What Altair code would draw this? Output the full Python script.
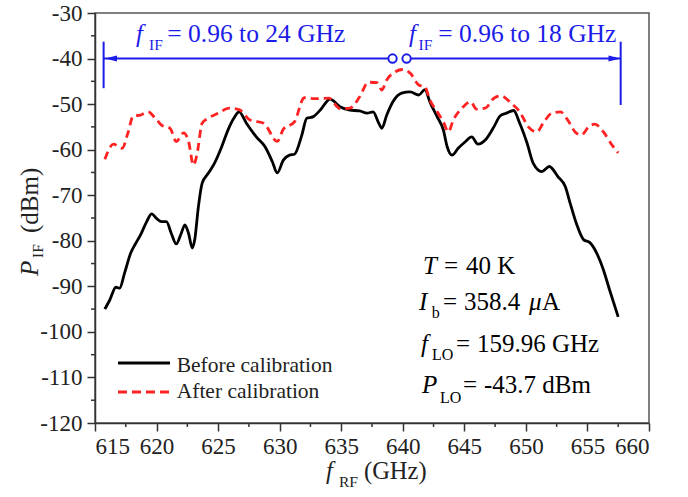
import altair as alt
import pandas as pd

# IF output power versus RF frequency, before and after calibration
rf_before = [615.8, 616.2, 616.7, 617.0, 617.4, 617.9, 618.3, 618.7, 619.2, 619.6,
             620.0, 620.4, 620.8, 621.2, 621.6, 622.0, 622.3, 622.6, 622.9, 623.1,
             623.4, 623.7, 624.2, 624.7, 625.3, 625.8, 626.3, 626.7, 627.3, 628.1,
             628.8, 629.4, 629.8, 630.3, 630.8, 631.2, 631.8, 632.2, 632.7, 633.3,
             634.1, 634.9, 635.7, 636.5, 637.1, 637.6, 638.0, 638.3, 638.7, 639.2,
             639.9, 640.6, 641.3, 641.8, 642.2, 642.8, 643.3, 643.6, 644.0, 644.5,
             645.1, 645.6, 646.1, 646.7, 647.4, 647.9, 648.4, 649.0, 649.5, 650.1,
             650.6, 651.3, 651.9, 652.6, 653.2, 653.6, 654.1, 654.7, 655.2, 655.75,
             656.3, 656.8, 657.5]
p_before = [-95.0, -93.0, -90.2, -90.4, -87.1, -82.7, -80.6, -78.7, -75.8, -74.1,
            -75.1, -75.8, -75.8, -78.4, -80.7, -78.4, -76.5, -78.4, -81.6, -79.8,
            -72.5, -67.4, -65.2, -63.0, -59.3, -55.7, -53.0, -51.7, -54.2, -57.2,
            -59.3, -62.6, -65.1, -62.3, -61.2, -61.0, -56.8, -53.1, -52.8, -51.3,
            -48.9, -50.6, -51.3, -51.5, -52.0, -51.7, -53.9, -55.3, -52.4, -49.5,
            -47.6, -47.3, -48.0, -46.8, -49.5, -52.8, -55.7, -59.3, -61.2, -59.7,
            -58.2, -57.2, -58.8, -57.9, -55.0, -52.6, -52.0, -51.4, -54.2, -58.6,
            -63.0, -64.8, -63.7, -65.9, -68.1, -71.8, -76.2, -79.8, -80.4, -82.7,
            -86.4, -90.8, -96.7]

rf_after = [615.8, 616.5, 617.2, 617.7, 618.1, 618.7, 619.3, 619.9, 620.4, 621.1,
            621.6, 622.2, 622.6, 623.0, 623.3, 623.7, 624.2, 625.0, 625.9, 626.7,
            627.6, 628.7, 629.8, 630.3, 631.2, 632.0, 632.8, 634.0, 634.9, 635.7,
            636.5, 637.2, 637.9, 638.3, 638.7, 639.4, 640.0, 640.6, 641.3, 641.8,
            642.2, 642.8, 643.3, 643.7, 644.1, 644.8, 645.5, 646.0, 646.7, 647.4,
            648.0, 648.8, 649.5, 650.2, 650.9, 651.4, 652.1, 652.8, 653.4, 654.0,
            654.5, 655.1, 655.6, 656.3, 657.0, 657.5]
p_after = [-62.1, -58.8, -59.7, -56.1, -52.6, -52.4, -51.7, -53.1, -54.6, -55.3,
           -58.2, -56.3, -58.2, -63.4, -60.8, -54.2, -53.1, -52.0, -50.9, -51.2,
           -53.5, -54.2, -58.2, -55.5, -53.9, -48.6, -48.8, -48.7, -51.0, -50.9,
           -48.4, -45.2, -45.3, -46.9, -44.7, -42.9, -42.4, -43.2, -45.8, -46.2,
           -49.1, -51.7, -53.9, -56.1, -53.5, -50.9, -49.5, -51.1, -50.9, -48.7,
           -48.2, -49.8, -51.7, -55.0, -56.1, -54.2, -52.0, -51.7, -53.5, -56.1,
           -56.8, -55.0, -54.4, -56.1, -59.0, -60.7]

x_major = [615, 620, 625, 630, 635, 640, 645, 650, 655, 660]
x_minor = [617.5, 622.5, 627.5, 632.5, 637.5, 642.5, 647.5, 652.5, 657.5]
y_major = [-120, -110, -100, -90, -80, -70, -60, -50, -40, -30]
y_minor = [-115, -105, -95, -85, -75, -65, -55, -45, -35]

# IF band markers: band edges, arrow ends and split point (GHz, dBm)
band_level = -40
band_left_edge, band_right_edge = 615.7, 657.7
band_split = [639.17, 640.31]

W, H = 554, 410
SERIF = "Liberation Serif, 'Times New Roman', Times, serif"
BLUE = "#1c1ce8"
RED = "#ff2222"

xs = alt.Scale(domain=[615, 660], nice=False, zero=False)
ys = alt.Scale(domain=[-120, -30], nice=False, zero=False)

axis_common = dict(
    labelFont=SERIF, labelFontSize=23, labelColor="#222",
    tickColor="#333", tickWidth=1.5, tickSize=8,
    domainColor="#333", domainWidth=1.5, grid=False, title=None,
    labelExpr="toString(datum.value)",
)

before_df = pd.DataFrame({"rf": rf_before, "p": p_before})
after_df = pd.DataFrame({"rf": rf_after, "p": p_after})

before = alt.Chart(before_df).mark_line(
    color="black", strokeWidth=2.8, interpolate="monotone"
).encode(
    x=alt.X("rf:Q", scale=xs, axis=alt.Axis(values=x_major, labelPadding=4, **axis_common)),
    y=alt.Y("p:Q", scale=ys, axis=alt.Axis(values=y_major, labelPadding=5, **axis_common)),
)

after = alt.Chart(after_df).mark_line(
    color=RED, strokeWidth=2.8, strokeDash=[8, 5], interpolate="monotone"
).encode(x=alt.X("rf:Q", scale=xs), y=alt.Y("p:Q", scale=ys))

# minor ticks
xminor = alt.Chart(pd.DataFrame({"v": x_minor})).mark_rule(
    color="#333", strokeWidth=1.5
).encode(x=alt.X("v:Q", scale=xs), y=alt.value(H), y2=alt.value(H + 4))
yminor = alt.Chart(pd.DataFrame({"v": y_minor})).mark_rule(
    color="#333", strokeWidth=1.5
).encode(y=alt.Y("v:Q", scale=ys), x=alt.value(0), x2=alt.value(-4))

# IF band annotation
seg_df = pd.DataFrame({
    "x": [band_left_edge, band_split[1], band_left_edge, band_right_edge],
    "x2": [band_split[0], band_right_edge, band_left_edge, band_right_edge],
    "y": [band_level, band_level, -36.3, -36.3],
    "y2": [band_level, band_level, -46.5, -50.2],
})
segs = alt.Chart(seg_df).mark_rule(color=BLUE, strokeWidth=2).encode(
    x=alt.X("x:Q", scale=xs), x2="x2:Q", y=alt.Y("y:Q", scale=ys), y2="y2:Q"
)
left_head = alt.Chart(pd.DataFrame({"x": [616.3], "y": [band_level]})).mark_point(
    shape="M-1,0L1,-0.5L1,0.5Z", size=144, filled=True, color=BLUE, opacity=1
).encode(x=alt.X("x:Q", scale=xs), y=alt.Y("y:Q", scale=ys))
right_head = alt.Chart(pd.DataFrame({"x": [657.2], "y": [band_level]})).mark_point(
    shape="M1,0L-1,-0.5L-1,0.5Z", size=144, filled=True, color=BLUE, opacity=1
).encode(x=alt.X("x:Q", scale=xs), y=alt.Y("y:Q", scale=ys))
split_marks = alt.Chart(pd.DataFrame({"x": band_split, "y": [band_level] * 2})).mark_point(
    shape="circle", size=70, filled=False, color=BLUE, fill="white", fillOpacity=1,
    strokeWidth=2, opacity=1
).encode(x=alt.X("x:Q", scale=xs), y=alt.Y("y:Q", scale=ys))


def label(text, x, y, size=24, style="normal", color="black", angle=0):
    """A single piece of text placed in plot-area pixels."""
    kw = dict(text=text, font=SERIF, fontSize=size, fontStyle=style, color=color,
              align="left", baseline="alphabetic")
    if angle:
        kw["angle"] = angle
    return alt.Chart(pd.DataFrame({"a": [0]})).mark_text(**kw).encode(
        x=alt.value(x), y=alt.value(y)
    )


texts = [
    # band labels
    label("f", 41, 28.7, 25, "italic", BLUE),
    label("IF", 54, 37, 15.5, "normal", BLUE),
    label("= 0.96 to 24 GHz", 72.3, 28.7, 25.5, "normal", BLUE),
    label("f", 314, 28.7, 25, "italic", BLUE),
    label("IF", 323.5, 37, 15.5, "normal", BLUE),
    label("= 0.96 to 18 GHz", 343.3, 28.7, 25.5, "normal", BLUE),
    # operating conditions
    label("T", 328, 261, 25, "italic"),
    label("=", 349, 261, 25),
    label("40 K", 371, 261, 25),
    label("I", 324, 297, 25, "italic"),
    label("b", 336.7, 305, 16),
    label("=", 348, 297, 25),
    label("358.4", 369, 297, 25),
    label("\u03bc", 434, 297, 25, "italic"),
    label("A", 447, 297, 25),
    label("f", 326, 338.7, 25, "italic"),
    label("LO", 337, 347, 16),
    label("=", 361, 338.7, 25),
    label("159.96 GHz", 382, 338.7, 25),
    label("P", 327, 380.3, 25, "italic"),
    label("LO", 345, 390, 16),
    label("=", 368, 380.3, 25),
    label("-43.7 dBm", 389, 380.3, 25),
    # legend
    label("Before calibration", 81.7, 358.7, 21.5, "normal", "#222"),
    label("After calibration", 81.7, 385, 21.5, "normal", "#222"),
    # axis titles
    label("f", 231, 466, 24.5, "italic", "#222"),
    label("RF", 244, 474, 15.5, "normal", "#222"),
    label("(GHz)", 269, 466, 24.5, "normal", "#222"),
    label("P", -57, 263, 25, "italic", "#222", 270),
    label("IF", -52, 245, 15.5, "normal", "#222", 270),
    label("(dBm)", -57, 220, 25, "normal", "#222", 270),
]

legend_lines = [
    alt.Chart(pd.DataFrame({"a": [0]})).mark_rule(color="black", strokeWidth=2.8).encode(
        x=alt.value(23), x2=alt.value(75), y=alt.value(350)
    ),
    alt.Chart(pd.DataFrame({"a": [0]})).mark_rule(
        color=RED, strokeWidth=2.8, strokeDash=[9, 5]
    ).encode(x=alt.value(23), x2=alt.value(75), y=alt.value(379)),
]

chart = alt.layer(
    before, after, xminor, yminor, segs, left_head, right_head, split_marks,
    *legend_lines, *texts
).properties(
    width=W, height=H,
    padding={"left": 95, "top": 13, "right": 39, "bottom": 74},
    autosize=alt.AutoSizeParams(type="none"),
    background="white",
).configure_view(stroke="#555", strokeWidth=1.5)

chart.save("out.html", embed_options={"renderer": "svg", "actions": False})
